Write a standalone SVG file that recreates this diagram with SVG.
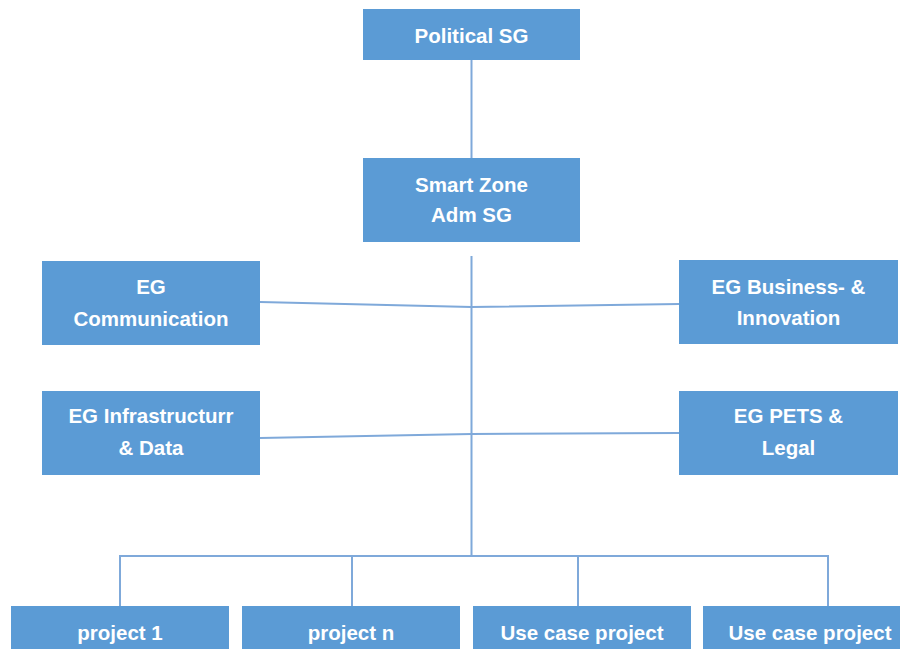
<svg xmlns="http://www.w3.org/2000/svg" width="904" height="649" viewBox="0 0 904 649">
<style>
.box{fill:#5B9BD5;}
.t{font-family:"Liberation Sans",Arial,sans-serif;font-weight:bold;font-size:20.5px;fill:#FFFFFF;text-anchor:middle;}
.c{stroke:#7FA9DA;stroke-width:2;fill:none;}
</style>
<rect width="904" height="649" fill="#FFFFFF"/>
<g id="connectors">
<line class="c" x1="471.5" y1="60" x2="471.5" y2="158"/>
<line class="c" x1="471.5" y1="256" x2="471.5" y2="556"/>
<polyline class="c" points="260,302 471.5,307 679,304"/>
<polyline class="c" points="260,438 471.5,434 679,433"/>
<polyline class="c" points="120,606 120,556 828,556 828,606"/>
<line class="c" x1="352" y1="556" x2="352" y2="606"/>
<line class="c" x1="578" y1="556" x2="578" y2="606"/>
</g>
<g id="political">
<rect class="box" x="363" y="9" width="217" height="51"/>
<text class="t" x="471.5" y="43">Political SG</text>
</g>
<g id="smartzone">
<rect class="box" x="363" y="158" width="217" height="84"/>
<text class="t" x="471.5" y="192">Smart Zone</text>
<text class="t" x="471.5" y="222">Adm SG</text>
</g>
<g id="eg-communication">
<rect class="box" x="42" y="261" width="218" height="84"/>
<text class="t" x="151" y="294">EG</text>
<text class="t" x="151" y="326">Communication</text>
</g>
<g id="eg-business">
<rect class="box" x="679" y="260" width="219" height="84"/>
<text class="t" x="788.5" y="294">EG Business- &amp;</text>
<text class="t" x="788.5" y="325">Innovation</text>
</g>
<g id="eg-infrastructure">
<rect class="box" x="42" y="391" width="218" height="84"/>
<text class="t" x="151" y="423">EG Infrastructurr</text>
<text class="t" x="151" y="455">&amp; Data</text>
</g>
<g id="eg-pets">
<rect class="box" x="679" y="391" width="219" height="84"/>
<text class="t" x="788.5" y="423">EG PETS &amp;</text>
<text class="t" x="788.5" y="455">Legal</text>
</g>
<g id="project1">
<rect class="box" x="11" y="606" width="218" height="50"/>
<text class="t" x="120" y="640">project 1</text>
</g>
<g id="projectn">
<rect class="box" x="242" y="606" width="218" height="50"/>
<text class="t" x="351" y="640">project n</text>
</g>
<g id="usecase1">
<rect class="box" x="473" y="606" width="218" height="50"/>
<text class="t" x="582" y="640">Use case project</text>
</g>
<g id="usecase2">
<rect class="box" x="703" y="606" width="197" height="50"/>
<text class="t" x="810" y="640">Use case project</text>
</g>
</svg>
